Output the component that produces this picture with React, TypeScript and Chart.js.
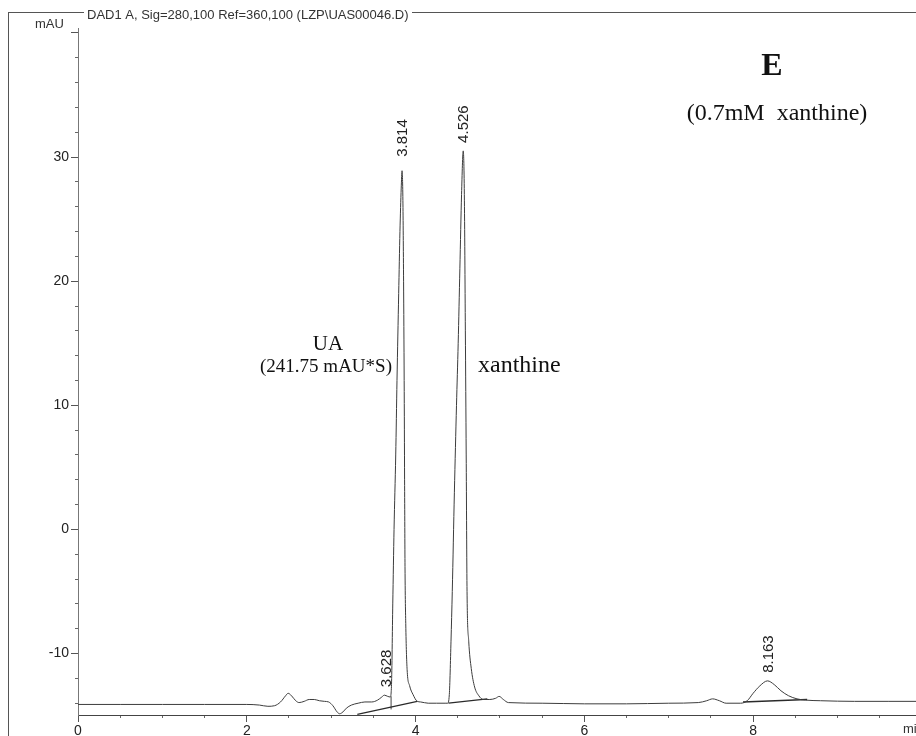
import React, { useEffect, useRef } from 'react';
import { Chart, registerables } from 'chart.js';

Chart.register(...registerables);

// Chromatogram trace (retention time in min, signal in mAU)
const retentionTimes = [
  0.0, 0.5, 1.0, 1.5, 2.0, 2.15, 2.25, 2.33, 2.4, 2.46, 2.49, 2.53, 2.58, 2.62, 2.68, 2.74, 2.8, 2.86,
  2.92, 2.97, 3.02, 3.07, 3.1, 3.14, 3.18, 3.24, 3.32, 3.4, 3.48, 3.55, 3.6, 3.63, 3.67, 3.7,
  3.715, 3.73, 3.745, 3.765, 3.78, 3.8, 3.815, 3.83, 3.84, 3.85, 3.858, 3.865, 3.87, 3.875, 3.885, 3.9,
  3.93, 3.97, 4.02, 4.06, 4.15, 4.25, 4.35, 4.38, 4.4, 4.42, 4.435, 4.46, 4.485, 4.505, 4.525, 4.545,
  4.565, 4.578, 4.59, 4.6, 4.61, 4.63, 4.66, 4.7, 4.75, 4.8, 4.88, 4.95, 4.99, 5.04, 5.1, 5.5, 6.0,
  6.5, 7.0, 7.35, 7.45, 7.52, 7.6, 7.68, 7.85, 7.93, 8.0, 8.08, 8.17, 8.25, 8.33, 8.42, 8.52, 8.62,
  8.8, 9.2, 9.6, 9.93,
];
const absorbance = [
  -14.1, -14.1, -14.1, -14.1, -14.1, -14.15, -14.25, -14.2, -13.9, -13.4, -13.2, -13.4, -13.8, -13.95,
  -13.85, -13.7, -13.7, -13.8, -13.85, -13.9, -14.2, -14.7, -14.85, -14.7, -14.4, -14.15, -14.0, -13.9,
  -13.9, -13.75, -13.5, -13.35, -13.45, -13.5,
  -12.5, -6, 0, 6, 12, 19, 24, 27.5, 28.9, 26.5, 20, 12, 4, -3, -8, -11.3,
  -12.6, -13.3, -13.85, -13.9, -14.0, -14.0, -14.0, -14.0, -13.3, -9, -5, 3, 10, 15, 21, 27,
  30.5, 27, 16, 6, -5, -9, -11.2, -12.7, -13.4, -13.7, -13.7, -13.6, -13.45, -13.7, -13.95, -14.0, -14.05,
  -14.05, -14.0, -13.95, -13.8, -13.65, -13.8, -14.0, -14.0, -13.8, -13.2, -12.6, -12.2, -12.5, -13.0, -13.4, -13.65, -13.75,
  -13.8, -13.85, -13.85, -13.85,
];

// Integration baselines and drop line
const baseline1Times = [3.31, 4.02];
const baseline1Values = [-14.9, -13.85];
const dropLineTimes = [3.71, 3.71];
const dropLineValues = [-14.5, -13.45];
const baseline2Times = [4.39, 4.85];
const baseline2Values = [-14.0, -13.65];
const baseline3Times = [7.88, 8.64];
const baseline3Values = [-13.9, -13.7];

// Peak annotations
const peakLabels = ['3.628', '3.814', '4.526', '8.163'];
const peakTimes = [3.65, 3.84, 4.565, 8.17];
const peakHeights = [-13.35, 28.9, 30.5, -12.2];

// Axis ticks
const xMajorTicks = [0, 2, 4, 6, 8];
const xMinorTicks = [0, 0.5, 1, 1.5, 2, 2.5, 3, 3.5, 4, 4.5, 5, 5.5, 6, 6.5, 7, 7.5, 8, 8.5, 9, 9.5];
const yMajorTicks = [-10, 0, 10, 20, 30, 40];
const yLabelledTicks = [-10, 0, 10, 20, 30];
const yMinorTicks = [-14, -12, -10, -8, -6, -4, -2, 0, 2, 4, 6, 8, 10, 12, 14, 16, 18, 20, 22, 24, 26, 28, 30, 32, 34, 36, 38, 40];

const titleText = 'DAD1 A, Sig=280,100 Ref=360,100 (LZP\\UAS00046.D)';

const SANS = '"Liberation Sans", Arial, sans-serif';
const SERIF = '"Liberation Serif", "Times New Roman", serif';

const pts = (xs: number[], ys: number[]) => xs.map((x, i) => ({ x, y: ys[i] }));

const decorPlugin = {
  id: 'decor',
  afterDraw(chart: any) {
    const ctx = chart.ctx as CanvasRenderingContext2D;
    const xs = chart.scales.x;
    const ys = chart.scales.y;
    ctx.save();
    // frame
    ctx.strokeStyle = '#555';
    ctx.lineWidth = 1;
    ctx.beginPath();
    ctx.moveTo(8, 12.5);
    ctx.lineTo(84, 12.5);
    ctx.moveTo(412, 12.5);
    ctx.lineTo(916, 12.5);
    ctx.moveTo(8.5, 12);
    ctx.lineTo(8.5, 736);
    ctx.stroke();

    // title
    ctx.fillStyle = '#333';
    ctx.font = `13px ${SANS}`;
    ctx.textAlign = 'left';
    ctx.textBaseline = 'middle';
    ctx.fillText(titleText, 87, 15);
    ctx.fillText('mAU', 35, 24);
    ctx.fillText('min', 903, 729);

    // peak labels (rotated)
    ctx.font = `15px ${SANS}`;
    ctx.fillStyle = '#222';
    peakLabels.forEach((lab, i) => {
      const px = xs.getPixelForValue(peakTimes[i]);
      const py = ys.getPixelForValue(peakHeights[i]);
      const gap = lab === '3.814' ? 14 : 8;
      ctx.save();
      ctx.translate(px + 1, py - gap);
      ctx.rotate(-Math.PI / 2);
      ctx.textAlign = 'left';
      ctx.textBaseline = 'middle';
      ctx.fillText(lab, 0, 0);
      ctx.restore();
    });

    // serif annotations
    ctx.fillStyle = '#111';
    ctx.textBaseline = 'alphabetic';
    ctx.textAlign = 'center';
    ctx.font = `21px ${SERIF}`;
    ctx.fillText('UA', 328, 350);
    ctx.font = `19px ${SERIF}`;
    ctx.fillText('(241.75 mAU*S)', 326, 372);
    ctx.textAlign = 'left';
    ctx.font = `24px ${SERIF}`;
    ctx.fillText('xanthine', 478, 372);
    ctx.textAlign = 'center';
    ctx.font = `bold 32px ${SERIF}`;
    ctx.fillText('E', 772, 75);
    ctx.font = `24px ${SERIF}`;
    ctx.fillText('(0.7mM  xanthine)', 777, 120);
    ctx.restore();
  },
};

export default function App() {
  const ref = useRef<HTMLCanvasElement | null>(null);
  useEffect(() => {
    if (!ref.current) return;
    const lineDs = (data: any[], color: string, width: number) => ({
      data,
      borderColor: color,
      borderWidth: width,
      pointRadius: 0,
      fill: false,
      tension: 0,
      xAxisID: 'x',
      yAxisID: 'y',
    });
    const chart = new Chart(ref.current, {
      type: 'line',
      data: {
        datasets: [
          { ...lineDs(pts(retentionTimes, absorbance), '#3c3c3c', 1), cubicInterpolationMode: 'monotone' } as any,
          lineDs(pts(baseline1Times, baseline1Values), '#2a2a2a', 1.2),
          lineDs(pts(dropLineTimes, dropLineValues), '#444', 1),
          lineDs(pts(baseline2Times, baseline2Values), '#2a2a2a', 1.2),
          lineDs(pts(baseline3Times, baseline3Values), '#2a2a2a', 1.5),
        ],
      },
      options: {
        animation: false,
        responsive: false,
        devicePixelRatio: 1,
        parsing: false,
        layout: { padding: { left: 8, top: 28, right: 0, bottom: 0 } },
        plugins: { legend: { display: false }, tooltip: { enabled: false }, title: { display: false } },
        scales: {
          xMinor: {
            type: 'linear',
            position: 'bottom',
            min: 0,
            max: 9.93,
            weight: 0,
            afterBuildTicks: (s: any) => { s.ticks = xMinorTicks.map((v) => ({ value: v })); },
            afterFit: (s: any) => { s.height = 0; },
            ticks: { display: false },
            grid: { drawOnChartArea: false, drawTicks: true, tickLength: 3, tickColor: '#666' },
            border: { display: false },
          },
          x: {
            type: 'linear',
            position: 'bottom',
            min: 0,
            max: 9.93,
            weight: 1,
            afterBuildTicks: (s: any) => { s.ticks = xMajorTicks.map((v) => ({ value: v })); },
            afterFit: (s: any) => { s.height = 21; },
            ticks: {
              autoSkip: false,
              maxRotation: 0,
              padding: 1,
              color: '#222',
              font: { family: SANS, size: 14 },
              callback: (v: any) => String(v),
            },
            grid: { drawOnChartArea: false, drawTicks: true, tickLength: 7, tickColor: '#555' },
            border: { display: true, color: '#444', width: 1, dash: [9, 2] },
          },
          yMinor: {
            type: 'linear',
            position: 'left',
            min: -14.95,
            max: 40.4,
            weight: 0,
            afterBuildTicks: (s: any) => { s.ticks = yMinorTicks.map((v) => ({ value: v })); },
            afterFit: (s: any) => { s.width = 0; },
            ticks: { display: false },
            grid: { drawOnChartArea: false, drawTicks: true, tickLength: 3, tickColor: '#666' },
            border: { display: false },
          },
          y: {
            type: 'linear',
            position: 'left',
            min: -14.95,
            max: 40.4,
            weight: 1,
            afterBuildTicks: (s: any) => { s.ticks = yMajorTicks.map((v) => ({ value: v })); },
            afterFit: (s: any) => { s.width = 70; },
            ticks: {
              autoSkip: false,
              padding: 2,
              color: '#222',
              font: { family: SANS, size: 14 },
              callback: (v: any) => (yLabelledTicks.includes(Number(v)) ? String(v) : ''),
            },
            grid: { drawOnChartArea: false, drawTicks: true, tickLength: 7, tickColor: '#555' },
            border: { display: true, color: '#777', width: 1, dash: [5, 2] },
          },
        },
      } as any,
      plugins: [decorPlugin],
    });
    return () => chart.destroy();
  }, []);

  return (
    <div style={{ position: 'absolute', left: 0, top: 0, width: 916, height: 736, background: '#fff' }}>
      <canvas ref={ref} width={916} height={736} style={{ width: 916, height: 736, display: 'block' }} />
    </div>
  );
}
